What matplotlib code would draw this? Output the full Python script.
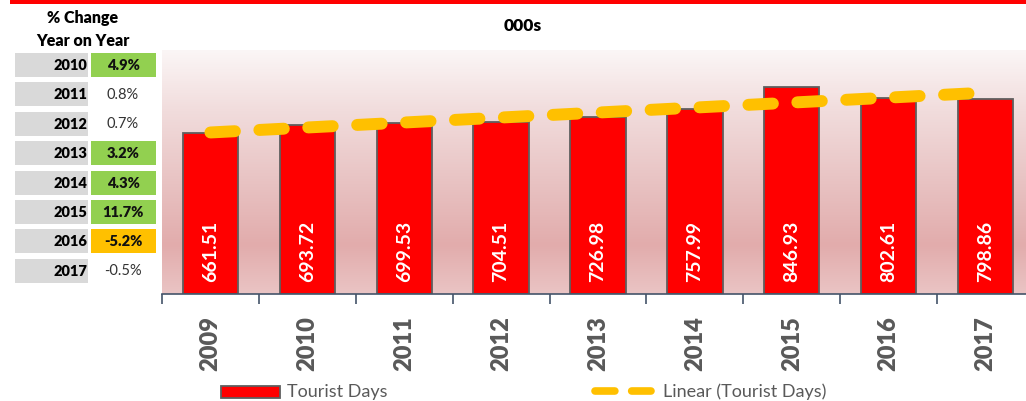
import numpy as np
import matplotlib.pyplot as plt
from matplotlib.colors import LinearSegmentedColormap
from matplotlib.patches import Rectangle
from matplotlib.lines import Line2D

plt.rcParams['font.family'] = ['Lato', 'DejaVu Sans']

# datos
years = ['2009', '2010', '2011', '2012', '2013', '2014', '2015', '2016', '2017']
tourist_days = [661.51, 693.72, 699.53, 704.51, 726.98, 757.99, 846.93, 802.61, 798.86]
change_years = ['2010', '2011', '2012', '2013', '2014', '2015', '2016', '2017']
change_labels = ['4.9%', '0.8%', '0.7%', '3.2%', '4.3%', '11.7%', '-5.2%', '-0.5%']
change_colors = ['#92d050', None, None, '#92d050', '#92d050', '#92d050', '#ffc000', None]

W, H = 1026, 401
fig = plt.figure(figsize=(W / 100, H / 100), dpi=100)

def px(x, y):
    # pixel -> coordenadas de figura
    return x / W, 1 - y / H

# barra roja superior
fig.patches.append(Rectangle(px(10, 4), 1 - 10 / W, 4 / H, transform=fig.transFigure,
                             facecolor='#ff0000', edgecolor='none'))

# ejes del grafico (se sale un poco por la derecha como en el original)
left, right, top, bottom = 162, 1034, 50, 294
ax = fig.add_axes([left / W, 1 - bottom / H, (right - left) / W, (bottom - top) / H])

x = np.arange(len(years))
ax.set_xlim(-0.5, len(years) - 0.5)
ax.set_ylim(0, 1000)

# fondo degradado
cmap = LinearSegmentedColormap.from_list('bg', [
    (0.0, '#eac4c4'), (0.2, '#e2acac'), (0.45, '#e8c2c2'),
    (0.75, '#f1dcdc'), (1.0, '#fbf6f6')])
grad = np.linspace(0, 1, 256).reshape(-1, 1)
ax.imshow(grad, cmap=cmap, origin='lower', aspect='auto',
          extent=(0, 1, 0, 1), transform=ax.transAxes, zorder=0)

ax.bar(x, tourist_days, width=0.57, color='#ff0000', edgecolor='#5f5f5f',
       linewidth=1.3, zorder=2)

for xi, v in zip(x, tourist_days):
    ax.text(xi, 48, f'{v:.2f}', rotation=90, ha='center', va='bottom',
            color='white', fontsize=14, fontweight='bold', zorder=3)

# linea de tendencia lineal
coef = np.polyfit(x, tourist_days, 1)
trend = np.polyval(coef, x)
ax.plot(x, trend, color='#ffc000', lw=8.6, dashes=(2.05, 2.05),
        solid_capstyle='round', dash_capstyle='round', zorder=4)

for s in ['left', 'right', 'top']:
    ax.spines[s].set_visible(False)
ax.spines['bottom'].set_color('#44546a')
ax.spines['bottom'].set_linewidth(1.2)
ax.set_yticks([])
ax.set_xticks(x)
ax.set_xticklabels(years, rotation=90, fontsize=17, fontweight='heavy', color='#595959')
ax.tick_params(axis='x', which='major', length=0, pad=16)
ax.set_xticks(np.arange(-0.5, len(years)), minor=True)
ax.tick_params(axis='x', which='minor', length=7.5, width=1.2, color='#44546a')

# titulo
fig.text(*px(523, 26), '000s', ha='center', va='center', fontsize=12.5, fontweight='heavy')

# tabla de variacion
fig.text(*px(83, 18), '% Change', ha='center', va='center', fontsize=11.5, fontweight='heavy')
fig.text(*px(83, 41), 'Year on Year', ha='center', va='center', fontsize=11.5, fontweight='heavy')
for i, (yr, lab, col) in enumerate(zip(change_years, change_labels, change_colors)):
    y0 = 53 + i * 29.4
    fig.patches.append(Rectangle(px(15, y0 + 24), 73 / W, 24 / H, transform=fig.transFigure,
                                 facecolor='#d9d9d9', edgecolor='none'))
    fig.text(*px(87, y0 + 12.5), yr, ha='right', va='center', fontsize=10.5, fontweight='heavy')
    if col:
        fig.patches.append(Rectangle(px(91, y0 + 24), 65 / W, 24 / H, transform=fig.transFigure,
                                     facecolor=col, edgecolor='none'))
    fig.text(*px(123, y0 + 12.5), lab, ha='center', va='center', fontsize=10.5,
             fontweight='heavy' if col else 'normal', color='#111111' if col else '#333333')

# leyenda
fig.patches.append(Rectangle(px(221, 398), 59 / W, 12 / H, transform=fig.transFigure,
                             facecolor='#ff0000', edgecolor='#5f5f5f', linewidth=1.3))
fig.text(*px(287, 392), 'Tourist Days', ha='left', va='center', fontsize=13, color='#595959')
fig.lines.append(Line2D([595 / W, 651 / W], [1 - 391 / H] * 2, transform=fig.transFigure,
                        color='#ffc000', lw=5.5, dashes=(2.6, 2.2),
                        dash_capstyle='round', solid_capstyle='round'))
fig.text(*px(663, 392), 'Linear (Tourist Days)', ha='left', va='center', fontsize=13,
         color='#595959')

fig.savefig('out.png', dpi=100)
